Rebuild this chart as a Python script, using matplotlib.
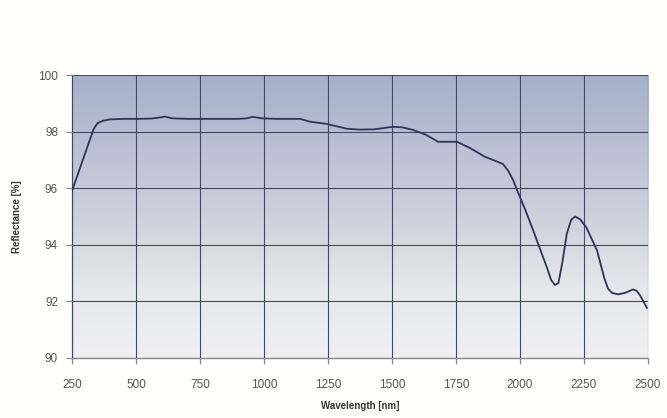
import numpy as np
import matplotlib.pyplot as plt
from matplotlib.colors import LinearSegmentedColormap

wavelength = [250, 300, 335, 350, 370, 398, 450, 500, 560, 594, 613, 640, 700, 800,
              900, 933, 957, 990, 1050, 1140, 1180, 1246, 1324, 1375, 1430, 1504,
              1540, 1582, 1630, 1680, 1754, 1805, 1863, 1900, 1934, 1955, 1975, 1988,
              2020, 2051, 2105, 2122, 2137, 2150, 2165, 2183, 2200, 2215, 2235, 2260,
              2301, 2330, 2344, 2360, 2383, 2410, 2441, 2455, 2470, 2496]
reflectance = [95.9, 97.2, 98.1, 98.3, 98.38, 98.43, 98.45, 98.45, 98.46, 98.5,
               98.53, 98.47, 98.45, 98.45, 98.45, 98.47, 98.52, 98.47, 98.45, 98.45,
               98.35, 98.27, 98.1, 98.07, 98.08, 98.17, 98.15, 98.06, 97.9, 97.64,
               97.64, 97.42, 97.11, 96.98, 96.85, 96.6, 96.25, 95.94, 95.25, 94.52,
               93.2, 92.75, 92.58, 92.65, 93.35, 94.4, 94.88, 95.0, 94.9, 94.6, 93.8,
               92.8, 92.45, 92.3, 92.25, 92.3, 92.42, 92.38, 92.2, 91.77]

xticks = [250, 500, 750, 1000, 1250, 1500, 1750, 2000, 2250, 2500]
yticks = [90, 92, 94, 96, 98, 100]

plt.rcParams['font.family'] = ['Liberation Sans', 'DejaVu Sans']

fig = plt.figure(figsize=(6.67, 4.18), dpi=100, facecolor='#fffffd')
ax = fig.add_axes([72/667, 1 - 358/418, 576/667, 283/418])

cmap = LinearSegmentedColormap.from_list('bg', [(0, '#f0f0f2'), (0.25, '#e6e7ea'),
                                                (0.5, '#cdd1dc'), (1, '#a7b0cb')])
grad = np.linspace(0, 1, 256).reshape(-1, 1)
ax.imshow(grad, cmap=cmap, origin='lower', aspect='auto',
          extent=[250, 2500, 90, 100], zorder=0)

ax.plot(wavelength, reflectance, color='#2e3558', lw=1.3, zorder=3,
        solid_joinstyle='round')

ax.set_xlim(250, 2500)
ax.set_ylim(90, 100)
ax.set_xticks(xticks)
ax.set_yticks(yticks)
ax.grid(True, color='#454a63', lw=0.8, zorder=2)
ax.set_axisbelow(False)

for s in ['top', 'right']:
    ax.spines[s].set_visible(False)
for s in ['left', 'bottom']:
    ax.spines[s].set_color('#8a8a8a')
    ax.spines[s].set_linewidth(1.0)

ax.tick_params(axis='both', colors='#8a8a8a', labelcolor='#555555', labelsize=8.5,
               length=4, width=0.9)
ax.tick_params(axis='x', pad=11)
ax.tick_params(axis='y', pad=6)
ax.set_xlabel('Wavelength [nm]', fontsize=7, fontweight='bold', color='#333333', labelpad=7)
ax.set_ylabel('Reflectance [%]', fontsize=7, fontweight='bold', color='#333333', labelpad=12)

fig.savefig('out.png', dpi=100, facecolor=fig.get_facecolor())
